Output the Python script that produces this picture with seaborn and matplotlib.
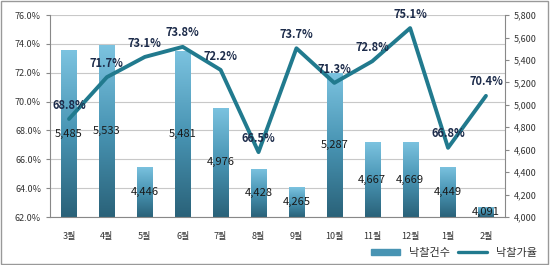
import numpy as np
import pandas as pd
import seaborn as sns
import matplotlib.pyplot as plt
from matplotlib.patches import Rectangle
from matplotlib.ticker import FuncFormatter

months = ["3월", "4월", "5월", "6월", "7월", "8월", "9월", "10월", "11월", "12월", "1월", "2월"]
counts = [5485, 5533, 4446, 5481, 4976, 4428, 4265, 5287, 4667, 4669, 4449, 4091]
rates = [68.8, 71.7, 73.1, 73.8, 72.2, 66.5, 73.7, 71.3, 72.8, 75.1, 66.8, 70.4]

df = pd.DataFrame({"month": months, "count": counts, "rate": rates})
df["x"] = np.arange(len(months))

sns.set_style("white")
plt.rcParams["font.family"] = ["Noto Sans CJK KR", "DejaVu Sans"]

fig = plt.figure(figsize=(5.5, 2.65), dpi=100)
ax = fig.add_axes([0.091, 0.181, 0.827, 0.762])

# bars on the count axis (right side)
sns.barplot(data=df, x="x", y="count", ax=ax, color="#4f9fc0", width=0.4,
            saturation=1, zorder=2)
ax2 = ax.twinx()
sns.lineplot(data=df, x="x", y="rate", ax=ax2, color="#217a8e", lw=2.8,
             zorder=4, legend=False)

ymin, ymax = 4000, 5800
ax.set_xlim(-0.5, len(months) - 0.5)
ax.set_ylim(ymin, ymax)

# vertical gradient inside each bar
grad = np.linspace(0, 1, 256).reshape(-1, 1)
cmap = sns.blend_palette(["#2a6279", "#4894b3", "#7cc3e0"], as_cmap=True)
for bar in ax.patches:
    x0, w, h = bar.get_x(), bar.get_width(), bar.get_height()
    im = ax.imshow(grad, extent=[x0, x0 + w, ymin, h], origin="lower",
                   aspect="auto", cmap=cmap, zorder=2.5)
    im.set_clip_path(bar)
    bar.set_edgecolor("none")
ax.set_xlim(-0.5, len(months) - 0.5)
ax.set_ylim(ymin, ymax)

# gridlines follow the percent axis, behind the bars
for t in np.arange(62, 77, 2):
    ax.axhline(ymin + (t - 62) * (ymax - ymin) / 14, color="#c8c8c8", lw=0.8, zorder=0)

for xi, c in zip(df["x"], counts):
    ax.text(xi, ymin + (c - ymin) / 2, f"{c:,}", ha="center", va="center",
            fontsize=8, color="#1a1a1a", zorder=5)

ax.yaxis.tick_right()
ax.set_yticks(np.arange(4000, 5801, 200))
ax.yaxis.set_major_formatter(FuncFormatter(lambda v, p: f"{int(v):,}"))
ax.set_xlabel("")
ax.set_ylabel("")

ax2.set_ylim(62, 76)
ax2.set_yticks(np.arange(62, 76.1, 2))
ax2.yaxis.set_major_formatter(FuncFormatter(lambda v, p: f"{v:.1f}%"))
ax2.yaxis.tick_left()
ax2.set_xlabel("")
ax2.set_ylabel("")
for xi, r in zip(df["x"], rates):
    ax2.annotate(f"{r:.1f}%", (xi, r), xytext=(0, 10), textcoords="offset points",
                 ha="center", va="center", fontsize=8, fontweight="bold",
                 color="#1c2b4a", zorder=6)

ax.set_xticks(df["x"])
ax.set_xticklabels(months)
ax.set_xticks(np.arange(-0.5, len(months), 1), minor=True)
ax.set_xlim(-0.5, len(months) - 0.5)

for a in (ax, ax2):
    a.tick_params(axis="both", labelsize=6.5, colors="#333333", length=3)
    for s in a.spines.values():
        s.set_visible(False)
ax.tick_params(axis="x", which="major", length=0, labelsize=6.5, pad=11)
ax.tick_params(axis="x", which="minor", length=3, color="#888888")
ax.tick_params(axis="y", length=3, color="#888888")
ax2.tick_params(axis="y", length=3, color="#888888")
ax2.spines["left"].set_visible(True)
ax2.spines["left"].set_color("#888888")
ax.spines["right"].set_visible(True)
ax.spines["right"].set_color("#888888")
ax.spines["bottom"].set_visible(True)
ax.spines["bottom"].set_color("#888888")

handles = [Rectangle((0, 0), 1, 1, color="#4894b3"),
           plt.Line2D([0], [0], color="#217a8e", lw=2.4)]
fig.legend(handles, ["낙찰건수", "낙찰가율"], loc="lower right",
           bbox_to_anchor=(0.995, -0.01), ncol=2, frameon=False, fontsize=8,
           handlelength=2.6, handleheight=0.45, columnspacing=0.8,
           labelcolor="#333333")

fig.patches.append(Rectangle((0.002, 0.004), 0.995, 0.992, transform=fig.transFigure,
                             fill=False, edgecolor="#999999", lw=1))

fig.savefig("out.png", dpi=100)
